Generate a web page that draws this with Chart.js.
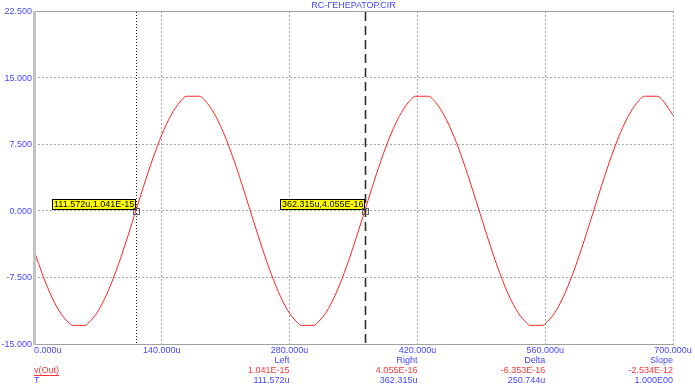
<!DOCTYPE html>
<html>
<head>
<meta charset="utf-8">
<script src="https://cdn.jsdelivr.net/npm/chart.js@4/dist/chart.umd.min.js"></script>
<style>
html,body{margin:0;padding:0;background:#fff;}
canvas{display:block;}
</style>
</head>
<body>
<canvas id="c" width="695" height="390"></canvas>
<script>
// ---- data ----
const times = [0,10,20,30,40,41.9,50,55.9,60,70,80,90,100,110,120,130,140,150,160,167.3,170,180,181.3,190,200,210,220,230,240,250,260,270,280,290,292.6,300,306.6,310,320,330,340,350,360,370,380,390,400,410,418,420,430,432,440,450,460,470,480,490,500,510,520,530,540,543.4,550,557.4,560,570,580,590,600,610,620,630,640,650,660,668.7,670,680,682.7,690,700];
const vOut = [-4.44,-7.36,-9.82,-11.66,-12.78,-12.9,-12.9,-12.9,-12.60,-11.31,-9.32,-6.74,-3.75,-0.52,2.75,5.84,8.56,10.75,12.27,12.9,12.9,12.9,12.9,12.09,10.47,8.19,5.40,2.27,-1.00,-4.21,-7.15,-9.65,-11.55,-12.72,-12.9,-12.9,-12.9,-12.66,-11.43,-9.49,-6.95,-3.98,-0.76,2.51,5.62,8.38,10.61,12.19,12.9,12.9,12.9,12.9,12.19,10.61,8.38,5.62,2.51,-0.76,-3.98,-6.95,-9.49,-11.43,-12.66,-12.9,-12.9,-12.9,-12.72,-11.55,-9.65,-7.15,-4.21,-1.00,2.27,5.40,8.19,10.47,12.09,12.9,12.9,12.9,12.9,12.27,10.75];

const xTicks = [0,140,280,420,560,700];
const xTickLabels = ['0.000u','140.000u','280.000u','420.000u','560.000u','700.000u'];
const yTicks = [-15,-7.5,0,7.5,15,22.5];
const yTickLabels = ['-15.000','-7.500','0.000','7.500','15.000','22.500'];

const title = 'RC-ГЕНЕРАТОР.CIR';
const cursorTimes = [111.572, 362.315];
const cursorValues = [1.041e-15, 4.055e-16];
const cursorLabels = ['111.572u,1.041E-15','362.315u,4.055E-16'];

const colHeaders = ['Left','Right','Delta','Slope'];
const colTicks = [280,420,560,700];
const rowVOut = ['1.041E-15','4.055E-16','-6.353E-16','-2.534E-12'];
const rowT = ['111.572u','362.315u','250.744u','1.000E00'];
const seriesName = 'v(Out)';
const xName = 'T';

const BLUE = '#4646ff';
const RED = '#ff3636';
const FONT = '9px "Liberation Sans", Arial, sans-serif';

const overlay = {
  id: 'overlay',
  afterDraw(chart) {
    const ctx = chart.ctx;
    const ca = chart.chartArea;
    const xs = chart.scales.x, ys = chart.scales.y;
    ctx.save();
    // borders
    ctx.strokeStyle = '#a0a0a0';
    ctx.lineWidth = 1;
    ctx.beginPath();
    ctx.moveTo(ca.left, Math.round(ca.top) + 0.5);
    ctx.lineTo(ca.right, Math.round(ca.top) + 0.5);
    ctx.moveTo(ca.left, Math.round(ca.bottom) + 0.5);
    ctx.lineTo(ca.right + 1, Math.round(ca.bottom) + 0.5);
    ctx.stroke();
    ctx.fillStyle = '#c4c4c4';
    ctx.fillRect(Math.round(ca.left) - 1, Math.round(ca.top), 3, Math.round(ca.bottom - ca.top) + 1);

    // cursors
    const cx0 = Math.round(xs.getPixelForValue(cursorTimes[0])) + 0.5;
    ctx.strokeStyle = '#202020';
    ctx.lineWidth = 1;
    ctx.setLineDash([1, 2]);
    ctx.beginPath();
    ctx.moveTo(cx0, ca.top + 1);
    ctx.lineTo(cx0, ca.bottom);
    ctx.stroke();
    const cx1 = Math.round(xs.getPixelForValue(cursorTimes[1])) + 0.5;
    ctx.strokeStyle = '#303030';
    ctx.lineWidth = 1.6;
    ctx.setLineDash([9, 5]);
    ctx.beginPath();
    ctx.moveTo(cx1, ca.top + 1);
    ctx.lineTo(cx1, ca.bottom);
    ctx.stroke();
    ctx.setLineDash([]);

    // cursor labels and markers
    ctx.font = FONT;
    ctx.textBaseline = 'middle';
    for (let i = 0; i < cursorTimes.length; i++) {
      const px = Math.round(xs.getPixelForValue(cursorTimes[i]));
      const py = Math.round(ys.getPixelForValue(cursorValues[i]));
      const w = Math.ceil(ctx.measureText(cursorLabels[i]).width) + 3;
      const h = 11;
      const bx = px - w, by = py - h - 1;
      ctx.fillStyle = '#ffff00';
      ctx.fillRect(bx, by, w, h);
      ctx.strokeStyle = '#000';
      ctx.lineWidth = 1;
      ctx.strokeRect(bx + 0.5, by + 0.5, w - 1, h - 1);
      ctx.fillStyle = '#000';
      ctx.textAlign = 'left';
      ctx.fillText(cursorLabels[i], bx + 2, by + h / 2 + 0.5);
      ctx.strokeStyle = '#606060';
      ctx.strokeRect(px - 3 + 0.5, py - 3 + 0.5, 6, 6);
    }

    // title
    ctx.fillStyle = BLUE;
    ctx.textAlign = 'center';
    ctx.fillText(title, (ca.left + ca.right) / 2, 6);

    // y tick labels
    ctx.textAlign = 'right';
    for (let i = 0; i < yTicks.length; i++) {
      ctx.fillText(yTickLabels[i], ca.left - 2, ys.getPixelForValue(yTicks[i]) + 0.5);
    }
    // x tick labels
    const rowY = ca.bottom + 7;
    for (let i = 0; i < xTicks.length; i++) {
      const px = xs.getPixelForValue(xTicks[i]);
      ctx.textAlign = i === 0 ? 'left' : 'center';
      ctx.fillText(xTickLabels[i], i === 0 ? px : px, rowY);
    }
    // bottom table
    ctx.textAlign = 'right';
    for (let i = 0; i < colHeaders.length; i++) {
      const px = xs.getPixelForValue(colTicks[i]);
      ctx.fillStyle = BLUE;
      ctx.fillText(colHeaders[i], px, rowY + 10);
      ctx.fillStyle = RED;
      ctx.fillText(rowVOut[i], px, rowY + 20);
      ctx.fillStyle = BLUE;
      ctx.fillText(rowT[i], px, rowY + 30);
    }
    ctx.textAlign = 'left';
    ctx.fillStyle = RED;
    ctx.fillText(seriesName, ca.left, rowY + 20);
    const sw = ctx.measureText(seriesName).width;
    ctx.fillRect(ca.left, rowY + 24, Math.round(sw), 1);
    ctx.fillStyle = BLUE;
    ctx.fillText(xName, ca.left, rowY + 30);
    ctx.restore();
  }
};

new Chart(document.getElementById('c'), {
  type: 'line',
  data: {
    datasets: [{
      label: seriesName,
      data: times.map((t, i) => ({ x: t, y: vOut[i] })),
      borderColor: '#ff2020',
      borderWidth: 1,
      pointRadius: 0,
      cubicInterpolationMode: 'monotone',
      fill: false
    }]
  },
  options: {
    responsive: false,
    animation: false,
    devicePixelRatio: 1,
    layout: { padding: { left: 34, right: 22, top: 11, bottom: 46 } },
    plugins: { legend: { display: false }, tooltip: { enabled: false }, title: { display: false } },
    scales: {
      x: {
        type: 'linear', min: 0, max: 700,
        afterBuildTicks(s) { s.ticks = xTicks.map(v => ({ value: v })); },
        afterFit(s) { s.height = 0; },
        ticks: { display: false },
        grid: { color: '#a8a8a8', lineWidth: 1, drawTicks: false },
        border: { display: false, dash: [2, 2] }
      },
      y: {
        type: 'linear', min: -15, max: 22.5,
        afterBuildTicks(s) { s.ticks = yTicks.map(v => ({ value: v })); },
        afterFit(s) { s.width = 0; },
        ticks: { display: false },
        grid: { color: '#a8a8a8', lineWidth: 1, drawTicks: false },
        border: { display: false, dash: [2, 2] }
      }
    }
  },
  plugins: [overlay]
});
</script>
</body>
</html>
